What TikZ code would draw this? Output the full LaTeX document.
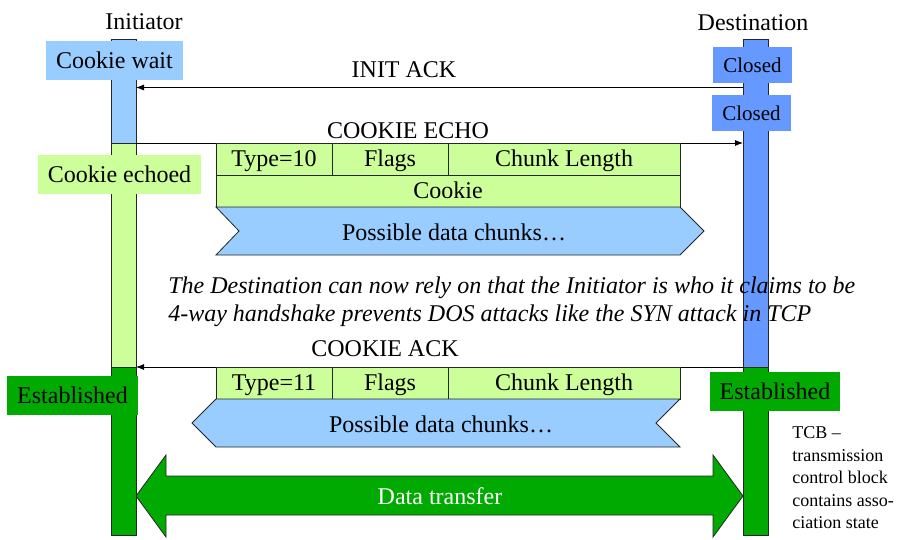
\documentclass[tikz,border=0pt]{standalone}
\usepackage{fontspec}
\setmainfont{Liberation Serif}
\usetikzlibrary{arrows.meta}
\definecolor{lblue}{HTML}{99CCFF}
\definecolor{lgreen}{HTML}{CCFF99}
\definecolor{dgreen}{HTML}{00AA00}
\definecolor{mblue}{HTML}{6699FF}
\begin{document}
\begin{tikzpicture}[x=0.75pt,y=-0.75pt,
  big/.style={font=\fontsize{18}{21}\selectfont},
  seg/.style={draw=black!85,line width=0.6pt,minimum width=25*0.75pt,inner sep=0pt},
  state/.style={big,inner sep=0pt},
  cell/.style={draw=black!85,fill=lgreen,line width=0.6pt,inner sep=0pt,big,minimum height=32*0.75pt,text depth=1pt},
  msg/.style={draw=black,line width=0.6pt,-{Latex[length=6pt,width=4.5pt]}},
  lbl/.style={big,inner sep=0pt},
  shape1/.style={draw=black!85,line width=0.6pt}]
\useasboundingbox (0,0) rectangle (899,539);
% lifeline labels
\node[lbl] (ilab) at (144,22) {Initiator};
\node[lbl] (dlab) at (753,23) {Destination};
% initiator bar
\node[seg,fill=lblue,minimum height=104*0.75pt] (i1) at (123.5,91) {};
\node[seg,fill=lgreen,minimum height=224*0.75pt] (i2) at (123.5,255) {};
\node[seg,fill=dgreen,minimum height=168*0.75pt] (i3) at (123.5,451) {};
% destination bar
\node[seg,fill=mblue,minimum height=328*0.75pt] (d1) at (755.5,203) {};
\node[seg,fill=dgreen,minimum height=168*0.75pt] (d3) at (755.5,451) {};
% state boxes
\node[state,fill=lblue,minimum width=137*0.75pt,minimum height=39*0.75pt] (cw) at (114.5,60.5) {Cookie wait};
\node[state,fill=lgreen,minimum width=163*0.75pt,minimum height=39*0.75pt] (ce) at (119.5,174.5) {Cookie echoed};
\node[state,fill=dgreen,minimum width=131*0.75pt,minimum height=39*0.75pt] (estl) at (72.5,395.5) {Established};
\node[state,fill=mblue,minimum width=79*0.75pt,minimum height=36*0.75pt,font=\fontsize{15.75}{18}\selectfont] (cl1) at (752.5,65) {Closed};
\node[state,fill=mblue,minimum width=79*0.75pt,minimum height=36*0.75pt,font=\fontsize{15.75}{18}\selectfont] (cl2) at (751.5,113) {Closed};
\node[state,fill=dgreen,minimum width=130*0.75pt,minimum height=39*0.75pt] (estr) at (775,391.5) {Established};
% message endpoints
\coordinate (a1s) at (743,87.5);  \coordinate (a1e) at (136,87.5);
\coordinate (a2s) at (136,143);   \coordinate (a2e) at (743,143);
\coordinate (a3s) at (743,367);   \coordinate (a3e) at (136,367);
\draw[msg] (a1s) -- (a1e);
\draw[msg] (a2s) -- (a2e);
\draw[msg] (a3s) -- (a3e);
\node[lbl] (initack) at (404,70) {INIT ACK};
\node[lbl] (cookieecho) at (408,131) {COOKIE ECHO};
\node[lbl] (cookieack) at (385,349) {COOKIE ACK};
% packet 1
\node[cell,minimum width=116*0.75pt] (t10) at (274,159) {Type=10};
\node[cell,minimum width=116*0.75pt] (f1) at (390,159) {Flags};
\node[cell,minimum width=232*0.75pt] (cl1len) at (564,159) {Chunk Length};
\node[cell,minimum width=464*0.75pt] (cookie) at (448,191) {Cookie};
\draw[shape1,fill=lblue] (216,207) -- (680,207) -- (704,231) -- (680,255) -- (216,255) -- (239,231) -- cycle;
\node[lbl] (pdc1) at (454,232) {Possible data chunks…};
% italic notes
\node[big,font=\fontsize{18}{21}\selectfont\itshape,anchor=west,align=left,inner sep=0pt] (note) at (168,302)
  {The Destination can now rely on that the Initiator is who it claims to be\\4-way handshake prevents DOS attacks like the SYN attack in TCP};
% packet 2
\node[cell,minimum width=116*0.75pt] (t11) at (274,383) {Type=11};
\node[cell,minimum width=116*0.75pt] (f2) at (390,383) {Flags};
\node[cell,minimum width=232*0.75pt] (cl2len) at (564,383) {Chunk Length};
\draw[shape1,fill=lblue] (680,399) -- (656,423) -- (680,447) -- (216,447) -- (192,423) -- (216,399) -- cycle;
\node[lbl] (pdc2) at (441,424) {Possible data chunks…};
% data transfer
\draw[shape1,fill=dgreen] (136,496) -- (166,455) -- (166,476) -- (713,476) -- (713,455) -- (743,496) -- (713,537) -- (713,515) -- (166,515) -- (166,537) -- cycle;
\node[lbl,text=white] (dt) at (440,496) {Data transfer};
% TCB note
\node[anchor=west,align=left,inner sep=0pt,font=\fontsize{13.5}{16.9}\selectfont] (tcb) at (792,478)
  {TCB --\\transmission\\control block\\contains asso-\\ciation state};
\end{tikzpicture}
\end{document}
